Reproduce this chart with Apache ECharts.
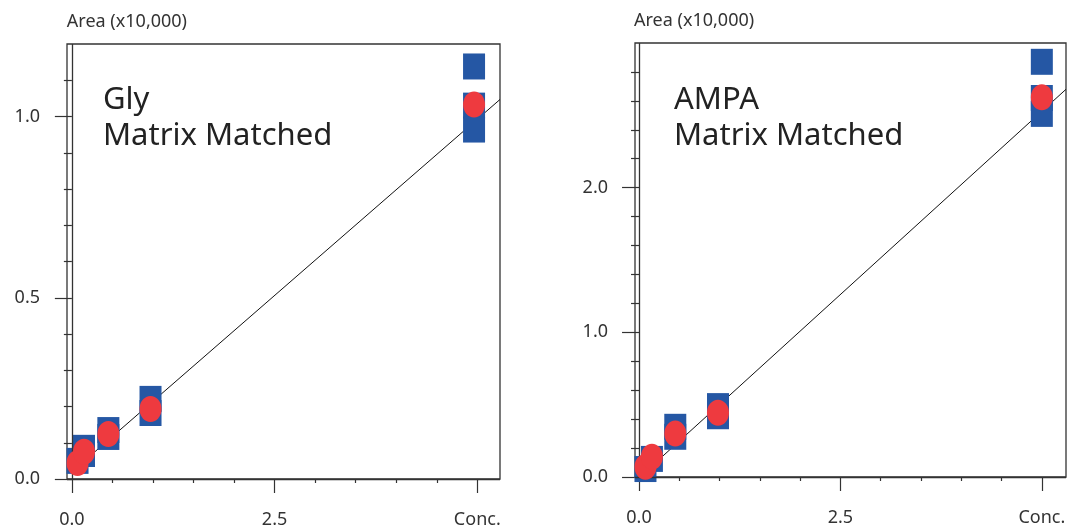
<!DOCTYPE html>
<html>
<head>
<meta charset="utf-8">
<title>Gly / AMPA Matrix Matched</title>
<script src="https://cdn.jsdelivr.net/npm/echarts@6/dist/echarts.min.js"></script>
<style>
  html, body { margin: 0; padding: 0; background: #fff; }
  #chart { width: 1071px; height: 530px; }
</style>
</head>
<body>
<div id="chart"></div>
<script type="text/javascript">
// 数据
var glySquareX = [0.07, 0.15, 0.15, 0.45, 0.45, 0.97, 0.97, 4.96, 4.96, 4.96];
var glySquareY = [0.050, 0.086, 0.069, 0.135, 0.116, 0.221, 0.182, 1.138, 1.030, 0.964];
var glyCircleX = [0.07, 0.15, 0.45, 0.97, 4.96];
var glyCircleY = [0.044, 0.075, 0.124, 0.193, 1.033];
var glyFitX = [0, 5.28];
var glyFitY = [0.020, 1.047];

var ampaSquareX = [0.08, 0.16, 0.45, 0.45, 0.98, 0.98, 5.0, 5.0, 5.0];
var ampaSquareY = [0.055, 0.125, 0.347, 0.278, 0.49, 0.42, 2.87, 2.62, 2.51];
var ampaCircleX = [0.08, 0.16, 0.45, 0.98, 5.0];
var ampaCircleY = [0.07, 0.14, 0.30, 0.444, 2.625];
var ampaFitX = [0, 5.3];
var ampaFitY = [-0.005, 2.68];

// tick labels
var xMajorTicks = [0, 2.5, 5];
var xMinorTicks = [0.5, 1, 1.5, 2, 3, 3.5, 4, 4.5];
var glyMajorTicks = [0, 0.5, 1.0];
var glyMinorTicks = [0.1, 0.2, 0.3, 0.4, 0.6, 0.7, 0.8, 0.9, 1.1];
var ampaMajorTicks = [0, 1.0, 2.0];
var ampaMinorTicks = [0.2, 0.4, 0.6, 0.8, 1.2, 1.4, 1.6, 1.8, 2.2, 2.4, 2.6, 2.8];

var fontName = 'Noto Sans';
var inkColor = '#333';
var blue = '#2557a4';
var red = '#ee3a3f';
var ellipse = 'path://M0,50 A50,50 0 1,1 100,50 A50,50 0 1,1 0,50 Z';

function zip(xs, ys) {
  return xs.map(function (x, i) { return [x, ys[i]]; });
}

function xAxes(gridIndex, min, max) {
  return [{
    type: 'value', gridIndex: gridIndex, position: 'bottom', min: min, max: max, offset: 6,
    axisLine: { show: false },
    splitLine: { show: false },
    axisTick: { show: true, customValues: xMajorTicks, length: 14, lineStyle: { color: inkColor, width: 1.2 } },
    axisLabel: {
      customValues: xMajorTicks, margin: 26, color: inkColor, fontSize: 18, fontFamily: fontName,
      formatter: function (v) { return v === 5 ? 'Conc.' : v.toFixed(1); }
    }
  }, {
    type: 'value', gridIndex: gridIndex, position: 'bottom', min: min, max: max, offset: 6,
    axisLine: { show: false },
    splitLine: { show: false },
    axisTick: { show: true, customValues: xMinorTicks, length: 4, lineStyle: { color: inkColor, width: 1.2 } },
    axisLabel: { show: false }
  }];
}

function yAxes(gridIndex, max, majors, minors) {
  return [{
    type: 'value', gridIndex: gridIndex, position: 'left', min: 0, max: max,
    name: 'Area (x10,000)', nameLocation: 'end', nameGap: 13,
    nameTextStyle: { align: 'left', color: inkColor, fontSize: 18, fontFamily: fontName, padding: [0, 0, 0, -5] },
    axisLine: { show: false },
    splitLine: { show: false },
    axisTick: { show: true, customValues: majors, length: 17, lineStyle: { color: inkColor, width: 1.2 } },
    axisLabel: {
      customValues: majors, margin: 27, color: inkColor, fontSize: 18, fontFamily: fontName,
      formatter: function (v) { return v.toFixed(1); }
    }
  }, {
    type: 'value', gridIndex: gridIndex, position: 'left', min: 0, max: max,
    axisLine: { show: false },
    splitLine: { show: false },
    axisTick: { show: true, customValues: minors, length: 8, lineStyle: { color: inkColor, width: 1.2 } },
    axisLabel: { show: false }
  }];
}

function seriesFor(gridNo, sqX, sqY, ciX, ciY, fitX, fitY) {
  var xi = gridNo * 2, yi = gridNo * 2;
  return [{
    type: 'line', xAxisIndex: xi, yAxisIndex: yi,
    data: zip(fitX, fitY), symbol: 'none', silent: true,
    lineStyle: { color: '#111', width: 1 },
    markLine: {
      silent: true, symbol: 'none', label: { show: false },
      lineStyle: { color: inkColor, width: 1.3, type: 'solid' },
      data: [{ xAxis: 0 }, { yAxis: 0 }]
    },
    z: 3
  }, {
    type: 'scatter', xAxisIndex: xi, yAxisIndex: yi,
    data: zip(sqX, sqY), symbol: 'rect', symbolSize: [22, 26],
    itemStyle: { color: blue, opacity: 1 }, z: 4
  }, {
    type: 'scatter', xAxisIndex: xi, yAxisIndex: yi,
    data: zip(ciX, ciY), symbol: ellipse, symbolSize: [22, 26],
    itemStyle: { color: red, opacity: 1 }, z: 5
  }];
}

var chart = echarts.init(document.getElementById('chart'));
var titleStyle = { fontSize: 31, fontWeight: 'normal', color: '#222', lineHeight: 36, fontFamily: fontName };
var option = {
  backgroundColor: '#fff',
  animation: false,
  textStyle: { fontFamily: fontName },
  title: [
    { text: 'Gly\nMatrix Matched', left: 103, top: 82, padding: 0, textStyle: titleStyle },
    { text: 'AMPA\nMatrix Matched', left: 674, top: 82, padding: 0, textStyle: titleStyle }
  ],
  grid: [
    { left: 67, right: 571, top: 44, bottom: 51, show: true, borderColor: inkColor, borderWidth: 1.3, backgroundColor: 'transparent' },
    { left: 635, right: 5, top: 43, bottom: 53, show: true, borderColor: inkColor, borderWidth: 1.3, backgroundColor: 'transparent' }
  ],
  xAxis: xAxes(0, -0.06, 5.28).concat(xAxes(1, -0.05, 5.3)),
  yAxis: yAxes(0, 1.2, glyMajorTicks, glyMinorTicks).concat(yAxes(1, 3.0, ampaMajorTicks, ampaMinorTicks)),
  series: seriesFor(0, glySquareX, glySquareY, glyCircleX, glyCircleY, glyFitX, glyFitY)
    .concat(seriesFor(1, ampaSquareX, ampaSquareY, ampaCircleX, ampaCircleY, ampaFitX, ampaFitY))
};
chart.setOption(option);
</script>
</body>
</html>
